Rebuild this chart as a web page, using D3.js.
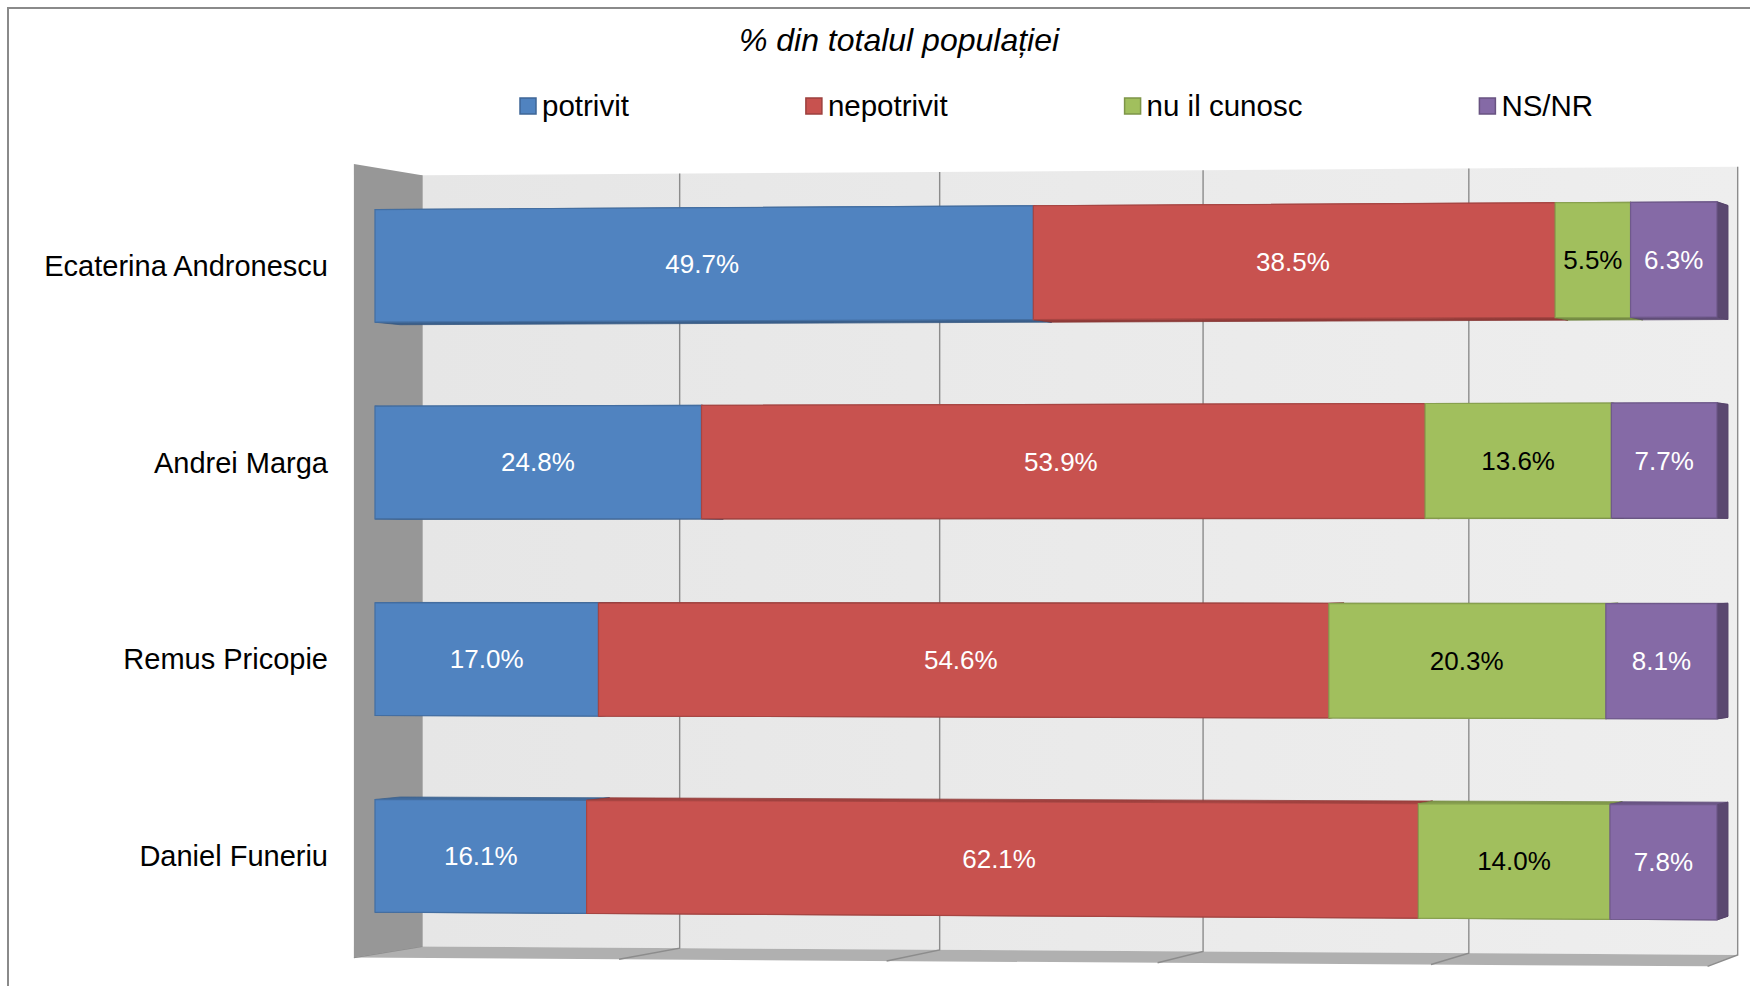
<!DOCTYPE html>
<html><head><meta charset="utf-8">
<script src="https://cdn.jsdelivr.net/npm/d3@7/dist/d3.min.js"></script>
<style>html,body{margin:0;padding:0;background:#fff;}svg{display:block;}</style>
</head><body>
<svg id="chart" width="1750" height="986"></svg>
<script>
// ---- data ----
const title = "% din totalul populației";
const categories = ["Ecaterina Andronescu", "Andrei Marga", "Remus Pricopie", "Daniel Funeriu"];
const seriesNames = ["potrivit", "nepotrivit", "nu il cunosc", "NS/NR"];
const potrivit   = [49.7, 24.8, 17.0, 16.1];
const nepotrivit = [38.5, 53.9, 54.6, 62.1];
const nuIlCunosc = [5.5, 13.6, 20.3, 14.0];
const nsnr       = [6.3, 7.7, 8.1, 7.8];
const gridTicks  = [0, 20, 40, 60, 80, 100];

const seriesValues = [potrivit, nepotrivit, nuIlCunosc, nsnr];
const colors = ["#5083c0", "#c8524f", "#a1bf5d", "#856aa6"];
const labelColors = ["#fff", "#fff", "#000", "#fff"];

const svg = d3.select("#chart");
const FONT = "'Liberation Sans', Arial, sans-serif";

// ---- 3D projection (front plane -> screen, with depth toward a vanishing point) ----
const x = d3.scaleLinear().domain(gridTicks).range([353.9, 619.1, 886.6, 1157.6, 1431.0, 1707.6]);
const y = d3.scaleBand().domain(categories).range([164.1, 957.6]).paddingInner(0.427).paddingOuter(0.2135);
const VPX = 2782, CY = 561.4, DEPTH_K = 0.028, MAG = 0.022;
const D0 = 0.31, D1 = 0.68; // bar front/back depth
function P(v, yf, d) {
  const xf = x(v);
  const t = (xf - x(0)) / (x(100) - x(0));
  const yp = CY + (yf - CY) * (1 + MAG * t);
  const r = 1 - DEPTH_K * d;
  return [VPX + (xf - VPX) * r, CY + (yp - CY) * r];
}
const poly = pts => "M" + pts.map(p => p.join(",")).join("L") + "Z";
const wallTop = y.range()[0], wallBot = y.range()[1];

// ---- outer border ----
svg.append("rect").attr("x", 8).attr("y", 8).attr("width", 1780).attr("height", 1000)
  .attr("fill", "none").attr("stroke", "#8a8a8a").attr("stroke-width", 2);

// ---- back wall ----
const defs = svg.append("defs");
const g1 = defs.append("linearGradient").attr("id", "wallGrad").attr("x1", 0).attr("x2", 1).attr("y1", 0).attr("y2", 0);
g1.append("stop").attr("offset", 0).attr("stop-color", "#e6e6e6");
g1.append("stop").attr("offset", 1).attr("stop-color", "#eeeeee");
svg.append("path").attr("d", poly([P(0, wallTop, 1), P(100, wallTop, 1), P(100, wallBot, 1), P(0, wallBot, 1)]))
  .attr("fill", "url(#wallGrad)");

// ---- floor ----
svg.append("path").attr("d", poly([P(0, wallBot, 1), P(100, wallBot, 1), P(100, wallBot, 0), P(0, wallBot, 0)]))
  .attr("fill", "#b0b0b0");

// ---- gridlines on back wall + floor ----
const grid = svg.append("g").attr("stroke", "#8c8c8c").attr("stroke-width", 1.4).attr("fill", "none");
gridTicks.forEach(v => {
  grid.append("path").attr("d", "M" + P(v, wallTop, 1) + "L" + P(v, wallBot, 1) + "L" + P(v, wallBot, 0));
});

// ---- left wall ----
svg.append("path").attr("d", poly([P(0, wallTop, 0), P(0, wallTop, 1), P(0, wallBot, 1), P(0, wallBot, 0)]))
  .attr("fill", "#979797");

// ---- bars ----
const stacked = categories.map((c, i) => {
  let acc = 0;
  return seriesValues.map((s, k) => { const v0 = acc; acc += s[i]; return {cat: c, k, v0, v1: acc, val: s[i]}; });
});
const bars = svg.append("g");
stacked.forEach(segs => {
  const c = segs[0].cat;
  const yt = y(c), yb = y(c) + y.bandwidth();
  const gb = bars.append("g");
  // hidden/side faces first
  segs.forEach(s => {
    const col = d3.color(colors[s.k]);
    gb.append("path").attr("d", poly([P(s.v0, yt, D0), P(s.v1, yt, D0), P(s.v1, yt, D1), P(s.v0, yt, D1)]))
      .attr("fill", col.darker(0.6)).attr("stroke", col.darker(0.9)).attr("stroke-width", 0.8);
    gb.append("path").attr("d", poly([P(s.v0, yb, D0), P(s.v1, yb, D0), P(s.v1, yb, D1), P(s.v0, yb, D1)]))
      .attr("fill", col.darker(0.9)).attr("stroke", col.darker(1.1)).attr("stroke-width", 0.8);
    gb.append("path").attr("d", poly([P(s.v1, yt, D0), P(s.v1, yt, D1), P(s.v1, yb, D1), P(s.v1, yb, D0)]))
      .attr("fill", col.darker(1.1)).attr("stroke", col.darker(1.3)).attr("stroke-width", 0.8);
  });
  // front faces
  segs.forEach(s => {
    const col = d3.color(colors[s.k]);
    gb.append("path").attr("d", poly([P(s.v0, yt, D0), P(s.v1, yt, D0), P(s.v1, yb, D0), P(s.v0, yb, D0)]))
      .attr("fill", colors[s.k]).attr("stroke", col.darker(0.5)).attr("stroke-width", 1.2);
  });
  // labels
  segs.forEach(s => {
    const pt = P((s.v0 + s.v1) / 2, yt + y.bandwidth() / 2, D0);
    gb.append("text").attr("x", pt[0]).attr("y", pt[1]).attr("dy", "0.35em")
      .attr("text-anchor", "middle").attr("font-family", FONT).attr("font-size", 26)
      .attr("fill", labelColors[s.k]).text(s.val.toFixed(1) + "%");
  });
});

// ---- category labels ----
categories.forEach(c => {
  const pt = P(0, y(c) + y.bandwidth() / 2, D0);
  svg.append("text").attr("x", 328).attr("y", pt[1]).attr("dy", "0.35em")
    .attr("text-anchor", "end").attr("font-family", FONT).attr("font-size", 29)
    .attr("fill", "#000").text(c);
});

// ---- title ----
svg.append("text").attr("x", 899).attr("y", 51).attr("text-anchor", "middle")
  .attr("font-family", FONT).attr("font-style", "italic").attr("font-size", 32).attr("fill", "#000").text(title);

// ---- legend ----
const leg = svg.append("g");
let lx = 520;
const LY = 106, BOX = 16, GAP = 177;
seriesNames.forEach((n, k) => {
  const col = d3.color(colors[k]);
  leg.append("rect").attr("x", lx).attr("y", LY - BOX / 2).attr("width", BOX).attr("height", BOX)
    .attr("fill", colors[k]).attr("stroke", col.darker(0.7)).attr("stroke-width", 1.5);
  const t = leg.append("text").attr("x", lx + 22).attr("y", LY).attr("dy", "0.35em")
    .attr("font-family", FONT).attr("font-size", 29.5).attr("fill", "#000").text(n);
  lx = lx + 22 + t.node().getComputedTextLength() + GAP;
});
</script>
</body></html>
